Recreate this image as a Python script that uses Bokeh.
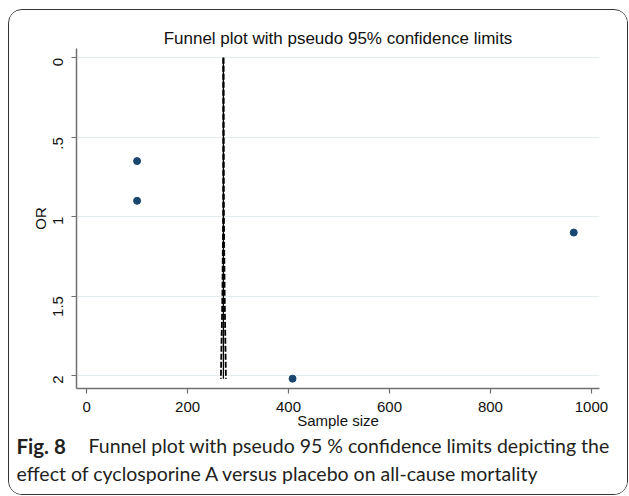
from bokeh.plotting import figure
from bokeh.models import Range1d, FixedTicker, Label, Column
from bokeh.embed import file_html
from bokeh.resources import INLINE
import math

# ---- data ----
sample_size = [100, 100, 965, 408]
odds_ratio = [0.65, 0.90, 1.10, 2.02]

funnel_y = [0.0, 0.5, 1.0, 1.5, 2.02]
funnel_center_x = [271, 271, 271, 271, 271]
funnel_lower_x = [271, 271, 270.5, 269, 266]
funnel_upper_x = [271, 271.5, 272, 273.5, 276]

x_ticks = [0, 200, 400, 600, 800, 1000]
y_ticks = [0, 0.5, 1, 1.5, 2]
y_tick_labels = {0: "0", 0.5: ".5", 1: "1", 1.5: "1.5", 2: "2"}

title_text = "Funnel plot with pseudo 95% confidence limits"
caption_bold = "Fig. 8"
caption_line1 = "Funnel plot with pseudo 95 % confidence limits depicting the"
caption_line2 = "effect of cyclosporine A versus placebo on all-cause mortality"

W1, H1 = 618, 425
AX_FONT = "Liberation Sans"

p = figure(width=W1, height=H1, output_backend="svg", toolbar_location=None,
           x_range=Range1d(-20, 1016), y_range=Range1d(2.082, -0.059),
           min_border_left=67, min_border_right=28, min_border_top=38, min_border_bottom=47)
p.frame_align = False
p.outline_line_color = None
p.background_fill_color = "white"
p.border_fill_color = "white"

p.title.text = title_text
p.title.align = "center"
p.title.text_font = AX_FONT
p.title.text_font_size = "17px"
p.title.text_font_style = "normal"
p.title.text_color = "#111111"
p.title.standoff = 1

for ax in (p.xaxis[0], p.yaxis[0]):
    ax.axis_line_color = "#6f6f6f"
    ax.axis_line_width = 1.5
    ax.major_tick_line_color = "#6f6f6f"
    ax.major_tick_line_width = 1.2
    ax.major_tick_out = 5
    ax.major_tick_in = 0
    ax.minor_tick_line_color = None
    ax.major_label_text_font = AX_FONT
    ax.major_label_text_font_size = "15px"
    ax.major_label_text_color = "#111111"
    ax.axis_label_text_font = AX_FONT
    ax.axis_label_text_font_size = "15px"
    ax.axis_label_text_font_style = "normal"
    ax.axis_label_text_color = "#111111"

p.xaxis.ticker = FixedTicker(ticks=x_ticks)
p.xaxis.axis_label = "Sample size"
p.xaxis.major_label_standoff = 8
p.xaxis.axis_label_standoff = -3

p.yaxis.ticker = FixedTicker(ticks=y_ticks)
p.yaxis.major_label_overrides = y_tick_labels
p.yaxis.major_label_orientation = math.pi / 2
p.yaxis.axis_label = "OR"
p.yaxis.major_label_standoff = 13
p.yaxis.axis_label_standoff = -3

p.xgrid.grid_line_color = None
p.ygrid.grid_line_color = "#e4ecef"
p.ygrid.grid_line_width = 1.2

# funnel lines
p.line(funnel_center_x, funnel_y, line_color="black", line_width=1.3)
p.line(funnel_lower_x, funnel_y, line_color="black", line_width=1.8, line_dash="6 2")
p.line(funnel_upper_x, funnel_y, line_color="black", line_width=1.8, line_dash="6 2")

# study points
p.scatter(sample_size, odds_ratio, size=7, fill_color="#1a476f", line_color="#1a476f")

# ---- caption panel ----
Hc = 59
cap = figure(width=W1, height=Hc, output_backend="svg", toolbar_location=None,
             x_range=Range1d(0, W1), y_range=Range1d(Hc, 0),
             x_axis_type=None, y_axis_type=None,
             min_border_left=0, min_border_right=0, min_border_top=0, min_border_bottom=0)
cap.frame_align = False
cap.outline_line_color = None
cap.xgrid.grid_line_color = None
cap.ygrid.grid_line_color = None

CAP_FONT = "Lato"
CAP_COLOR = "#231f20"
CAP_SIZE = "19.5px"
cap.add_layout(Label(x=7, y=10, text=caption_bold, text_font=CAP_FONT, text_font_size="20.5px",
                     text_font_style="bold", text_baseline="alphabetic", text_color=CAP_COLOR))
cap.add_layout(Label(x=79, y=10, text=caption_line1, text_font=CAP_FONT, text_font_size=CAP_SIZE,
                     text_baseline="alphabetic", text_color=CAP_COLOR))
cap.add_layout(Label(x=7, y=38, text=caption_line2, text_font=CAP_FONT, text_font_size=CAP_SIZE,
                     text_baseline="alphabetic", text_color=CAP_COLOR))

layout = Column(children=[p, cap], spacing=0, margin=(9, 0, 0, 8),
                styles={"border": "1.3px solid #333333", "border-radius": "14px",
                        "overflow": "hidden", "background": "white"})

open("out.html", "w").write(file_html(layout, INLINE))
